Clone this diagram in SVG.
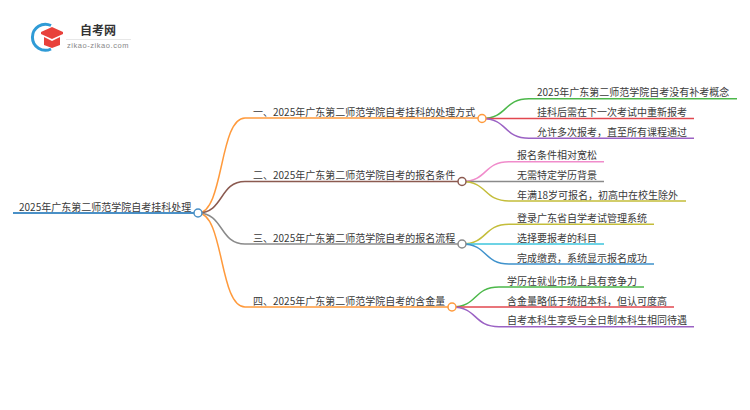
<svg xmlns="http://www.w3.org/2000/svg" width="750" height="410" viewBox="0 0 750 410">
<style>
text{font-family:"Noto Sans CJK SC","Liberation Sans",sans-serif;font-size:10px;fill:#3a3a3a}
.l{fill:none;stroke-width:1.5}
.n{fill:#fff;stroke-width:1.5}
</style>
<rect width="750" height="410" fill="#fff"/>
<g id="logo">
<path d="M51 25.500A13 13 0 1 0 51 49" fill="none" stroke="#2f9bd6" stroke-width="3"/>
<path d="M41 32L52 27L63 32L63 34L52 39L41 34Z" fill="#e8413b"/>
<path d="M44 37L52 41L60 37V45L52 48L44 45Z" fill="#e8413b"/>
<text x="80" y="35" style="font-size:12px;font-weight:700;fill:#333">自考网</text>
<rect x="66" y="39" width="65" height="0.8" fill="#e2e2e2"/>
<text x="67" y="47.500" style="font-size:7.500px;fill:#888;letter-spacing:.55px;font-family:'Liberation Sans',sans-serif">zikao-zikao.com</text>
</g>
<g id="connectors">
<path class="l" d="M13 213H198" stroke="#4a90c6" style="stroke-width:2"/>
<path class="l" stroke="#ff9a3c" d="M198 213C224 213 219 118 245 118H482"/>
<path class="l" stroke="#8b5a50" d="M198 213C224 213 219 181.500 245 181.500H462"/>
<path class="l" stroke="#8a8a8a" d="M198 213C224 213 219 244 245 244H462"/>
<path class="l" stroke="#ff9a3c" d="M198 213C224 213 219 307 245 307H452"/>
<path class="l" stroke="#4cb84a" d="M482 118.500C508 118.500 503 98.700 529 98.700H737"/>
<path class="l" stroke="#e2474f" d="M482 118.500H694"/>
<path class="l" stroke="#9b62c4" d="M482 118.500C508 118.500 503 138.300 529 138.300H694"/>
<path class="l" stroke="#f08ccb" d="M462 181.500C488 181.500 483 161.700 509 161.700H604"/>
<path class="l" stroke="#8a8a8a" d="M462 181.500H604"/>
<path class="l" stroke="#c4bd3a" d="M462 181.500C488 181.500 483 201 509 201H686"/>
<path class="l" stroke="#c4bd3a" d="M462 244C488 244 483 224.300 509 224.300H654"/>
<path class="l" stroke="#3cc4dc" d="M462 244H604"/>
<path class="l" stroke="#3f92cc" d="M462 244C488 244 483 264 509 264H654"/>
<path class="l" stroke="#4cb84a" d="M452 307C478 307 473 287 499 287H644"/>
<path class="l" stroke="#e2474f" d="M452 307H674"/>
<path class="l" stroke="#9b62c4" d="M452 307C478 307 473 326.700 499 326.700H694"/>
</g>
<g id="root"><text x="19" y="211">2025年广东第二师范学院自考挂科处理</text><circle class="n" cx="198" cy="213" r="4" stroke="#4a90c6"/></g>
<g id="b1"><text x="253" y="116">一、2025年广东第二师范学院自考挂科的处理方式</text><circle class="n" cx="482" cy="118.500" r="4" stroke="#ff9a3c"/></g>
<g id="b2"><text x="253" y="179">二、2025年广东第二师范学院自考的报名条件</text><circle class="n" cx="462" cy="181.500" r="4" stroke="#8b5a50"/></g>
<g id="b3"><text x="253" y="242">三、2025年广东第二师范学院自考的报名流程</text><circle class="n" cx="462" cy="244" r="4" stroke="#8a8a8a"/></g>
<g id="b4"><text x="253" y="305">四、2025年广东第二师范学院自考的含金量</text><circle class="n" cx="452" cy="307" r="4" stroke="#ff9a3c"/></g>
<g id="l11"><text x="537" y="96">2025年广东第二师范学院自考没有补考概念</text></g>
<g id="l12"><text x="537" y="116">挂科后需在下一次考试中重新报考</text></g>
<g id="l13"><text x="537" y="136">允许多次报考，直至所有课程通过</text></g>
<g id="l21"><text x="517" y="159">报名条件相对宽松</text></g>
<g id="l22"><text x="517" y="179">无需特定学历背景</text></g>
<g id="l23"><text x="517" y="199">年满18岁可报名，初高中在校生除外</text></g>
<g id="l31"><text x="517" y="222">登录广东省自学考试管理系统</text></g>
<g id="l32"><text x="517" y="242">选择要报考的科目</text></g>
<g id="l33"><text x="517" y="262">完成缴费，系统显示报名成功</text></g>
<g id="l41"><text x="507" y="285">学历在就业市场上具有竞争力</text></g>
<g id="l42"><text x="507" y="305">含金量略低于统招本科，但认可度高</text></g>
<g id="l43"><text x="507" y="324">自考本科生享受与全日制本科生相同待遇</text></g>
</svg>
